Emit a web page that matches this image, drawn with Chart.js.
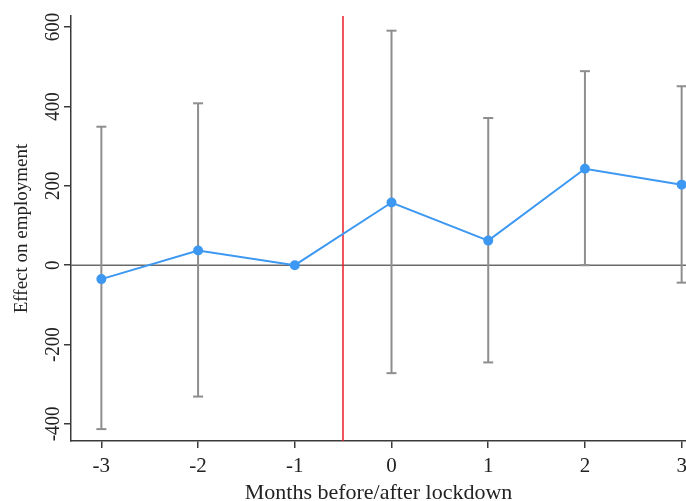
<!DOCTYPE html>
<html>
<head>
<meta charset="utf-8">
<script src="https://cdn.jsdelivr.net/npm/chart.js@4"></script>
<style>
  body { margin: 0; background: #fff; }
</style>
</head>
<body>
<canvas id="chart" width="686" height="501"></canvas>
<script>
const months = [-3, -2, -1, 0, 1, 2, 3];
const estimates = [-35, 37, 0, 158, 62, 243, 203];
const ciLow = [-413, -331, null, -272, -245, 0, -44];
const ciHigh = [349, 408, null, 591, 371, 489, 451];
const yTicks = [-400, -200, 0, 200, 400, 600];
const lockdownAt = -0.5;

const serif = '"Liberation Serif", "Times New Roman", serif';
const axisGrey = '#3a3a3a';

// zero line, confidence intervals, lockdown marker and rotated y labels
const extras = {
  id: 'extras',
  beforeDatasetsDraw(chart) {
    const { ctx, chartArea: a, scales: { x, y } } = chart;
    const seg = (x1, y1, x2, y2) => {
      ctx.beginPath();
      ctx.moveTo(x1, y1);
      ctx.lineTo(x2, y2);
      ctx.stroke();
    };
    ctx.save();
    ctx.strokeStyle = '#6a6a6a';
    ctx.lineWidth = 1.5;
    const y0 = y.getPixelForValue(0);
    seg(a.left, y0, a.right, y0);

    ctx.strokeStyle = '#8e8e8e';
    ctx.lineWidth = 2;
    months.forEach((m, i) => {
      if (ciLow[i] == null) return;
      const px = x.getPixelForValue(m);
      const lo = y.getPixelForValue(ciLow[i]);
      const hi = y.getPixelForValue(ciHigh[i]);
      seg(px, lo, px, hi);
      seg(px - 5, lo, px + 5, lo);
      seg(px - 5, hi, px + 5, hi);
    });

    ctx.strokeStyle = '#ee1c24';
    ctx.lineWidth = 1.5;
    const xr = Math.round(x.getPixelForValue(lockdownAt));
    seg(xr, a.top, xr, a.bottom);
    ctx.restore();
  },
  afterDraw(chart) {
    const { ctx, scales: { y } } = chart;
    ctx.save();
    ctx.font = '19px ' + serif;
    ctx.fillStyle = '#222';
    ctx.textAlign = 'center';
    ctx.textBaseline = 'middle';
    yTicks.forEach(v => {
      ctx.save();
      ctx.translate(y.right - 18, y.getPixelForValue(v));
      ctx.scale(1.15, 1);
      ctx.rotate(-Math.PI / 2);
      ctx.fillText(String(v), 0, 0);
      ctx.restore();
    });
    ctx.restore();
  }
};

new Chart(document.getElementById('chart'), {
  type: 'line',
  data: {
    datasets: [{
      data: months.map((m, i) => ({ x: m, y: estimates[i] })),
      borderColor: '#3d98f2',
      backgroundColor: '#3d98f2',
      borderWidth: 2,
      pointRadius: 4,
      pointHoverRadius: 4,
      tension: 0
    }]
  },
  options: {
    responsive: false,
    animation: false,
    layout: { autoPadding: false, padding: { top: 16, right: 0, bottom: 0, left: 0 } },
    plugins: { legend: { display: false }, tooltip: { enabled: false } },
    scales: {
      x: {
        type: 'linear',
        min: -3.314,
        max: 3.045,
        afterBuildTicks: s => { s.ticks = months.map(v => ({ value: v })); },
        afterFit: s => { s.height = 60; s.paddingLeft = 0; s.paddingRight = 0; },
        grid: { drawOnChartArea: false, drawTicks: true, tickLength: 7, color: axisGrey, lineWidth: 1.5 },
        border: { color: axisGrey, width: 1.5 },
        ticks: { font: { family: serif, size: 21 }, color: '#222', padding: 6, maxRotation: 0 },
        title: {
          display: true,
          text: 'Months before/after lockdown',
          font: { family: serif, size: 22, lineHeight: 1 },
          color: '#222',
          padding: { top: 2, bottom: -3 }
        }
      },
      y: {
        min: -443,
        max: 628,
        afterBuildTicks: s => { s.ticks = yTicks.map(v => ({ value: v })); },
        afterFit: s => { s.width = 71; },
        grid: { drawOnChartArea: false, drawTicks: true, tickLength: 7, color: axisGrey, lineWidth: 1.5 },
        border: { color: axisGrey, width: 1.5 },
        ticks: { display: false },
        title: {
          display: true,
          text: 'Effect on employment',
          font: { family: serif, size: 19 },
          color: '#222',
          padding: { top: 11, bottom: 0 }
        }
      }
    }
  },
  plugins: [extras]
});
</script>
</body>
</html>
